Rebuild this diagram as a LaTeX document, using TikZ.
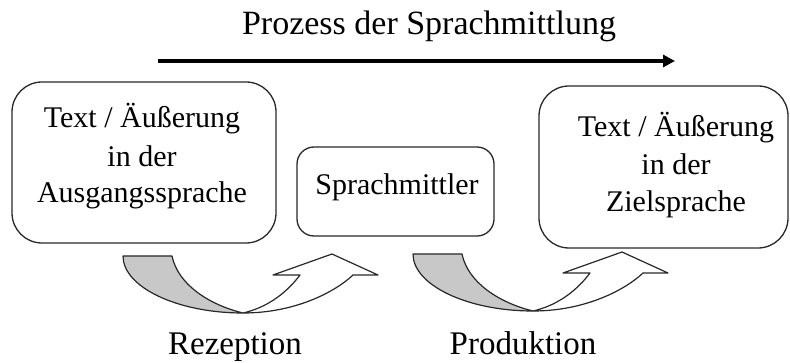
\documentclass[tikz,border=0pt]{standalone}
\usepackage{fontspec}
\setmainfont{Liberation Serif}
\usetikzlibrary{arrows.meta}
\definecolor{tailgray}{RGB}{200,200,200}
\definecolor{edgeblack}{RGB}{40,40,40}
\tikzset{
  box/.style={draw=edgeblack, line width=1.3pt, rounded corners=#1, inner sep=0pt},
  boxtext/.style={font=\fontsize{30}{36}\selectfont, anchor=base, inner sep=0pt},
  labeltext/.style={font=\fontsize{33}{40}\selectfont, anchor=base, inner sep=0pt},
  titletext/.style={font=\fontsize{34}{40}\selectfont, anchor=base, inner sep=0pt},
  bandline/.style={draw=edgeblack, line width=1.2pt, line join=round},
  pics/curvarrow/.style={code={
    % gray back of the band
    \path[bandline, fill=tailgray] (0,0) -- (49,0)
      .. controls (55,29) and (87,49) .. (120,57)
      .. controls (54,57) and (0,31) .. cycle;
    % white front of the band with head
    \path[bandline, fill=white] (120,57)
      .. controls (172,57) and (212,36) .. (230,19)
      -- (255,19) -- (209,-2) -- (150,19) -- (177,19)
      .. controls (162,39) and (142,52) .. cycle;
  }}
}
\begin{document}
\begin{tikzpicture}[x=1pt,y=-1pt]
\useasboundingbox (0,0) rectangle (790,363);
% title and process arrow
\node[titletext] (title) at (429,35) {Prozess der Sprachmittlung};
\coordinate (pstart) at (158,61);
\coordinate (pend) at (675,61);
\draw[line width=3.5pt, -{Triangle[length=12pt,width=12pt]}] (pstart) -- (pend);
% boxes
\node[box=30pt, minimum width=264pt, minimum height=161pt] (src) at (144,162.5) {};
\node[box=17pt, minimum width=197pt, minimum height=89pt] (mid) at (395.5,191.5) {};
\node[box=30pt, minimum width=249pt, minimum height=162pt] (tgt) at (663.5,167) {};
% box texts
\node[boxtext] (s1) at (142,128) {Text / Äußerung};
\node[boxtext] (s2) at (142,167) {in der};
\node[boxtext] (s3) at (142,203) {Ausgangssprache};
\node[boxtext] (m1) at (397,195) {Sprachmittler};
\node[boxtext] (t1) at (676,137) {Text / Äußerung};
\node[boxtext] (t2) at (676,175) {in der};
\node[boxtext] (t3) at (676,212) {Zielsprache};
% curved arrows
\pic at (123,256) {curvarrow};
\pic at (413,254) {curvarrow};
% labels
\node[labeltext] (rez) at (235,355) {Rezeption};
\node[labeltext] (prod) at (523,355) {Produktion};
\end{tikzpicture}
\end{document}
